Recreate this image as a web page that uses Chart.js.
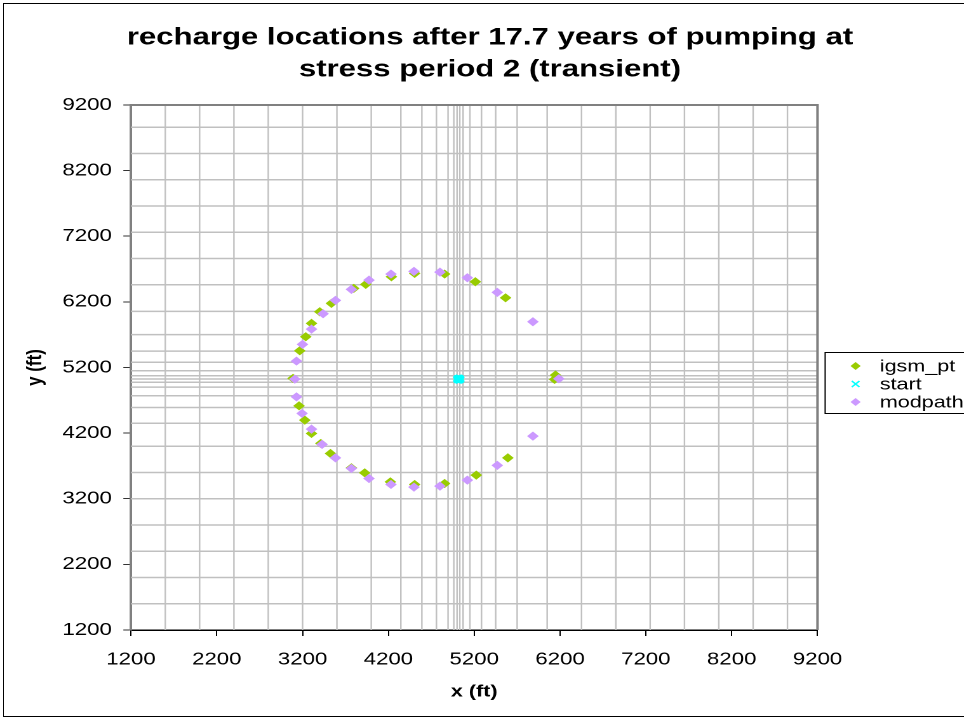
<!DOCTYPE html>
<html>
<head>
<meta charset="utf-8">
<title>recharge locations</title>
<script src="https://cdn.jsdelivr.net/npm/chart.js@4.4.1/dist/chart.umd.min.js"></script>
<style>
  html, body { margin: 0; padding: 0; overflow: hidden; background: #fff; }
  #frame { position: absolute; left: 3px; top: 3px; width: 972px; height: 712px; border: 1px solid #000; }
  /* the source picture is stretched sideways, so the chart is drawn narrow and widened */
  #stretch { position: absolute; left: 0; top: 0; width: 790px; height: 719px; transform: scaleX(1.27); transform-origin: 0 0; }
</style>
</head>
<body>
<div id="frame"></div>
<div id="stretch"><canvas id="rechargeChart" width="790" height="719"></canvas></div>
<script>
// Chart text
const titleLines = ['recharge locations after 17.7 years of pumping at', 'stress period 2 (transient)'];
const xTitle = 'x (ft)';
const yTitle = 'y (ft)';

// Axis range and tick step (ticks read 1200, 2200 ... 9200)
const axisMin = 1200;
const axisMax = 9200;
const tickStep = 1000;

// Model grid lines (ft)
const gridX = [1600, 2000, 2400, 2800, 3200, 3600, 4000, 4345, 4590, 4760, 4895, 4962, 5000,
               5032, 5070, 5150, 5285, 5450, 5700, 6050, 6450, 6850, 7250, 7650, 8050, 8450, 8850];
const gridY = [1600, 2000, 2400, 2800, 3200, 3600, 4000, 4350, 4590, 4770, 4900, 4975, 5025,
               5075, 5150, 5280, 5450, 5700, 6055, 6460, 6860, 7260, 7660, 8060, 8460, 8860];

// igsm_pt recharge locations [x, y]
const igsmPts = [
  [4235, 6583], [4506, 6634], [4855, 6624], [5213, 6506], [3936, 6467], [3796, 6406],
  [5565, 6262], [3536, 6177], [3400, 6049], [3304, 5872], [3237, 5668], [3167, 5455],
  [3089, 5034], [6147, 5084], [6136, 5019], [3159, 4616], [3226, 4398], [3304, 4195],
  [3412, 4043], [3525, 3890], [3769, 3671], [3924, 3595], [4223, 3458], [4506, 3418],
  [4855, 3433], [5224, 3560], [5592, 3823]
];

// start locations (particles released round the well)
const startPts = [
  [5043, 5023], [5036, 5040], [5020, 5047], [5004, 5040],
  [4997, 5023], [5004, 5006], [5020, 4999], [5036, 5006]
];

// modpath recharge locations [x, y]
const modpathPts = [
  [4498, 6665], [4801, 6654], [4230, 6624], [5120, 6567], [3974, 6532], [3769, 6391],
  [5469, 6345], [3583, 6223], [3439, 6019], [3304, 5785], [5884, 5897], [3199, 5552],
  [3129, 5298], [3109, 5023], [6186, 5028], [3129, 4753], [3194, 4500], [3304, 4261],
  [3427, 4028], [3583, 3823], [5884, 4154], [3769, 3662], [5469, 3708], [3974, 3509],
  [5120, 3484], [4230, 3418], [4498, 3377], [4801, 3392]
];

const FONT = "'Liberation Sans', Arial, sans-serif";

function toXY(pts) {
  return pts.map(p => ({ x: p[0], y: p[1] }));
}

// each grid line is two points, then a null point to break the line
function verticalLines(xs) {
  const out = [];
  xs.forEach(x => { out.push({ x: x, y: axisMin }, { x: x, y: axisMax }, { x: x, y: null }); });
  return out;
}
function horizontalLines(ys) {
  const out = [];
  ys.forEach(y => { out.push({ x: axisMin, y: y }, { x: axisMax, y: y }, { x: null, y: null }); });
  return out;
}

// Draw one legend marker
function drawMarker(ctx, style, x, y, color) {
  ctx.save();
  ctx.fillStyle = color;
  ctx.strokeStyle = color;
  if (style === 'crossRot') {
    ctx.lineWidth = 1.3;
    ctx.beginPath();
    ctx.moveTo(x - 3, y - 3); ctx.lineTo(x + 3, y + 3);
    ctx.moveTo(x + 3, y - 3); ctx.lineTo(x - 3, y + 3);
    ctx.stroke();
  } else {
    ctx.beginPath();
    ctx.moveTo(x, y - 4); ctx.lineTo(x + 4, y); ctx.lineTo(x, y + 4); ctx.lineTo(x - 4, y);
    ctx.closePath();
    ctx.fill();
  }
  ctx.restore();
}

// Boxed legend to the right of the plot, like the Excel one
const boxedLegend = {
  id: 'boxedLegend',
  afterDraw(chart) {
    const ctx = chart.ctx;
    const items = chart.data.datasets.filter(ds => ds.inLegend);
    const left = chart.chartArea.right + 6;
    ctx.save();
    ctx.strokeStyle = '#000';
    ctx.lineWidth = 1;
    ctx.strokeRect(left, 352.5, 140, 61);
    ctx.font = '17px ' + FONT;
    ctx.fillStyle = '#000';
    ctx.textBaseline = 'middle';
    items.forEach((ds, i) => {
      const y = 366 + i * 18;
      drawMarker(ctx, ds.pointStyle, left + 24, y, ds.borderColor);
      ctx.fillText(ds.label, left + 43, y + 1);
    });
    ctx.restore();
  }
};

// Grey top and right edges of the plot area
const plotFrame = {
  id: 'plotFrame',
  afterDatasetsDraw(chart) {
    const { ctx, chartArea: { left, top, right, bottom } } = chart;
    ctx.save();
    ctx.strokeStyle = '#808080';
    ctx.lineWidth = 2;
    ctx.beginPath();
    ctx.moveTo(left, top);
    ctx.lineTo(right, top);
    ctx.lineTo(right, bottom);
    ctx.stroke();
    ctx.restore();
  }
};

// plain numbers, no thousands separator
function plainTick(value) {
  return String(value);
}

document.addEventListener('DOMContentLoaded', function() {
  const ctx = document.getElementById('rechargeChart').getContext('2d');
  Chart.defaults.font.family = FONT;
  Chart.defaults.color = '#000';

  new Chart(ctx, {
    type: 'scatter',
    data: {
      datasets: [
        {
          label: 'igsm_pt',
          inLegend: true,
          data: toXY(igsmPts),
          pointStyle: 'rectRot',
          pointRadius: 3.9,
          backgroundColor: '#99cc00',
          borderColor: '#99cc00',
          borderWidth: 1,
          order: 2
        },
        {
          label: 'start',
          inLegend: true,
          data: toXY(startPts),
          pointStyle: 'crossRot',
          pointRadius: 3.6,
          backgroundColor: '#00ffff',
          borderColor: '#00ffff',
          borderWidth: 2,
          order: 0
        },
        {
          label: 'modpath',
          inLegend: true,
          data: toXY(modpathPts),
          pointStyle: 'rectRot',
          pointRadius: 3.9,
          backgroundColor: '#cc99ff',
          borderColor: '#cc99ff',
          borderWidth: 1,
          order: 1
        },
        {
          data: verticalLines(gridX),
          showLine: true,
          spanGaps: false,
          pointRadius: 0,
          borderColor: '#c0c0c0',
          borderWidth: 1.2,
          order: 5
        },
        {
          data: horizontalLines(gridY),
          showLine: true,
          spanGaps: false,
          pointRadius: 0,
          borderColor: '#c0c0c0',
          borderWidth: 1.5,
          order: 5
        }
      ]
    },
    options: {
      responsive: false,
      animation: false,
      devicePixelRatio: 2,
      events: [],
      layout: { padding: { left: 0, top: 0, right: 18.4, bottom: 0 } },
      scales: {
        x: {
          type: 'linear',
          position: 'bottom',
          min: axisMin,
          max: axisMax,
          afterFit: function(scale) { scale.height = 89; },
          ticks: {
            stepSize: tickStep,
            maxRotation: 0,
            autoSkip: false,
            padding: 13,
            color: '#000',
            font: { size: 17.5 },
            callback: plainTick
          },
          grid: { drawOnChartArea: false, drawTicks: true, tickLength: 6, tickColor: '#000', tickWidth: 1 },
          border: { display: true, color: '#000', width: 1.5 },
          title: {
            display: true,
            text: xTitle,
            color: '#000',
            font: { size: 17, weight: 'bold' },
            padding: { top: 0, bottom: 17 }
          }
        },
        y: {
          type: 'linear',
          position: 'left',
          min: axisMin,
          max: axisMax,
          afterFit: function(scale) { scale.width = 103.1; },
          ticks: {
            stepSize: tickStep,
            autoSkip: false,
            padding: 9,
            color: '#000',
            font: { size: 17.5 },
            callback: plainTick
          },
          grid: { drawOnChartArea: false, drawTicks: true, tickLength: 6, tickColor: '#333', tickWidth: 1 },
          border: { display: true, color: '#808080', width: 2 },
          title: {
            display: true,
            text: yTitle,
            color: '#000',
            font: { size: 17, weight: 'bold' },
            padding: { top: 17.4, bottom: 0 }
          }
        },
        // empty box on the right keeps room for the legend
        legendRoom: {
          type: 'linear',
          axis: 'y',
          position: 'right',
          afterFit: function(scale) { scale.width = 127.9; },
          ticks: { display: false },
          grid: { display: false, drawTicks: false },
          border: { display: false }
        }
      },
      plugins: {
        legend: { display: false },
        tooltip: { enabled: false },
        title: {
          display: true,
          text: titleLines,
          color: '#000',
          font: { size: 24.5, weight: 'bold', lineHeight: 1.3061 },
          padding: { top: 22, bottom: 19 }
        }
      }
    },
    plugins: [plotFrame, boxedLegend]
  });
});
</script>
</body>
</html>
